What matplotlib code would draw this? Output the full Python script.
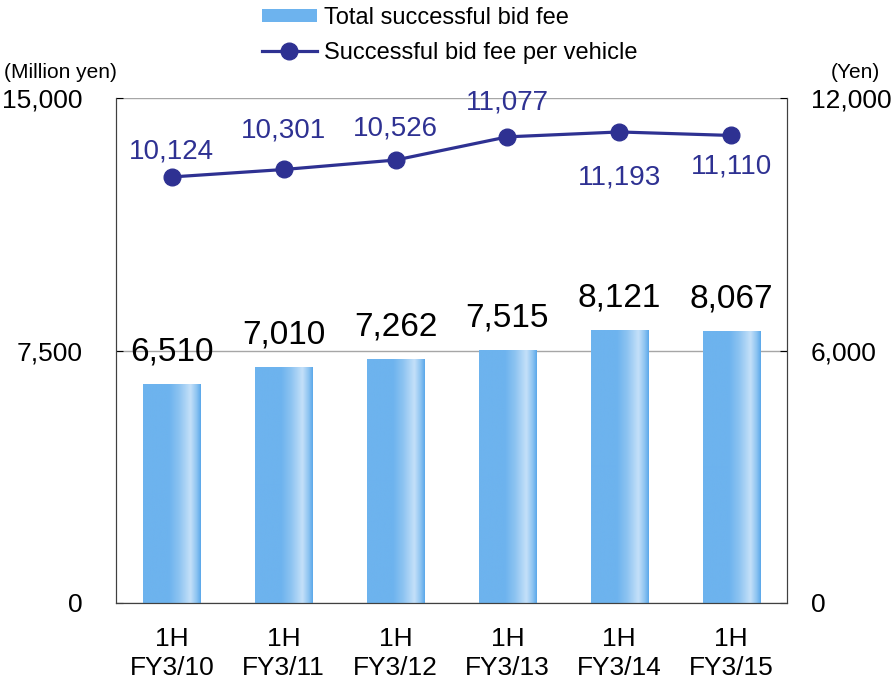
import numpy as np
import matplotlib
matplotlib.use('Agg')
import matplotlib.pyplot as plt
from matplotlib.colors import LinearSegmentedColormap
from matplotlib.patches import Patch
from matplotlib.lines import Line2D

# Data
periods = ['1H\nFY3/10', '1H\nFY3/11', '1H\nFY3/12', '1H\nFY3/13', '1H\nFY3/14', '1H\nFY3/15']
total_fee = [6510, 7010, 7262, 7515, 8121, 8067]          # million yen
fee_per_vehicle = [10124, 10301, 10526, 11077, 11193, 11110]  # yen
# label offsets for the line values (points, + above / - below)
line_label_offset = [18, 28, 23, 25, -33, -22]

bar_color = '#6DB3EE'
line_color = '#2E3192'

plt.rcParams['font.family'] = ['Liberation Sans', 'DejaVu Sans']

fig = plt.figure(figsize=(8.94, 6.86), dpi=100)
ax = fig.add_axes([116 / 894, 83 / 686, 671 / 894, 505 / 686])
ax2 = ax.twinx()

x = np.arange(len(periods))
width = 0.51

# gradient bars
cmap = LinearSegmentedColormap.from_list('bar', [
    (0.0, '#6DB3EE'), (0.45, '#6DB3EE'), (0.62, '#8CC3F1'),
    (0.82, '#C4E0F9'), (0.93, '#8CC3F1'), (1.0, '#5AA8EA')])
grad = np.linspace(0, 1, 256).reshape(1, -1)
bars = ax.bar(x, total_fee, width, color=bar_color, zorder=2)
for b in bars:
    im = ax.imshow(grad, cmap=cmap, aspect='auto', zorder=2.1,
                   extent=[b.get_x(), b.get_x() + b.get_width(), 0, b.get_height()])
    im.set_clip_path(b)
for xi, v in zip(x, total_fee):
    ax.annotate(f'{v:,}', (xi, v), xytext=(0, 23), textcoords='offset points',
                ha='center', va='center', fontsize=24, color='black')

ax.set_xlim(-0.5, 5.5)
ax.set_ylim(0, 15000)
ax.set_yticks([0, 7500, 15000])
ax.set_yticklabels(['0', '7,500', '15,000'])
ax.set_xticks(x)
ax.set_xticklabels(periods, fontsize=19, linespacing=1.27)
ax.tick_params(axis='x', length=0, pad=17)
ax.tick_params(axis='y', direction='in', length=5, labelsize=19, pad=24)
ax.grid(axis='y', color='#A6A6A6', linewidth=1, zorder=0)
ax.set_axisbelow(True)
ax.spines['top'].set_visible(False)
for s in ['left', 'right', 'bottom']:
    ax.spines[s].set_color('#404040')

# line on right axis
ax2.plot(x, fee_per_vehicle, color=line_color, linewidth=2.3, marker='o',
         markersize=12, zorder=5)
for xi, v, off in zip(x, fee_per_vehicle, line_label_offset):
    ax2.annotate(f'{v:,}', (xi, v), xytext=(0, off), textcoords='offset points',
                 ha='center', va='center', fontsize=20, color=line_color)
ax2.set_ylim(0, 12000)
ax2.set_yticks([0, 6000, 12000])
ax2.set_yticklabels(['0', '6,000', '12,000'])
ax2.tick_params(axis='y', direction='in', length=5, labelsize=19, pad=17)
ax2.spines['top'].set_visible(False)
for s in ['left', 'right', 'bottom']:
    ax2.spines[s].set_color('#404040')

fig.text(4 / 894, 1 - 72 / 686, '(Million yen)', fontsize=15, ha='left', va='center')
fig.text(880 / 894, 1 - 72 / 686, '(Yen)', fontsize=15, ha='right', va='center')

# legend
handles = [Patch(facecolor=bar_color, edgecolor='none'),
           Line2D([0], [0], color=line_color, linewidth=2.3, marker='o', markersize=12)]
fig.legend(handles, ['Total successful bid fee', 'Successful bid fee per vehicle'],
           loc='upper left', bbox_to_anchor=(241 / 894, 1.021), frameon=False,
           fontsize=17, handlelength=2.3, handleheight=0.5, handletextpad=0.3,
           labelspacing=0.55)

fig.savefig('out.png', dpi=100)
